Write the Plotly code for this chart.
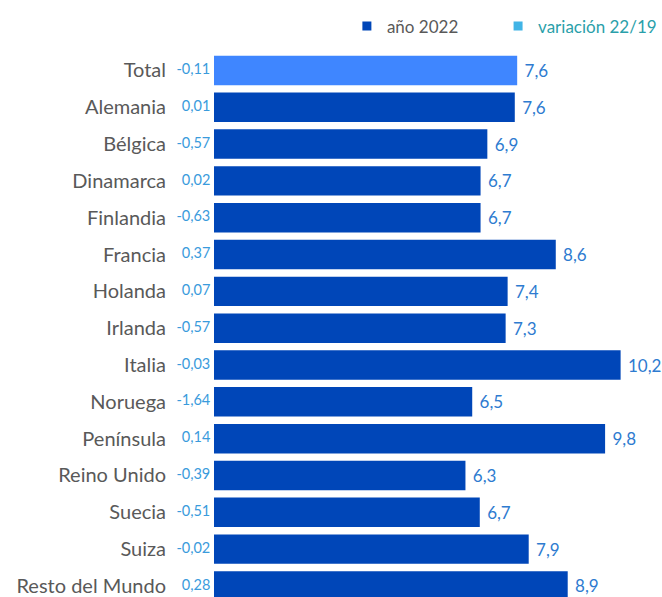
import plotly.graph_objects as go

categories = ["Total", "Alemania", "Bélgica", "Dinamarca", "Finlandia", "Francia",
              "Holanda", "Irlanda", "Italia", "Noruega", "Península", "Reino Unido",
              "Suecia", "Suiza", "Resto del Mundo"]
anio_2022 = [7.62, 7.56, 6.87, 6.70, 6.70, 8.59, 7.38, 7.33, 10.22, 6.49, 9.83, 6.32, 6.68, 7.91, 8.89]
variacion = ["-0,11", "0,01", "-0,57", "0,02", "-0,63", "0,37", "0,07", "-0,57", "-0,03",
             "-1,64", "0,14", "-0,39", "-0,51", "-0,02", "0,28"]

DARK = "#0046B8"
LIGHT = "#3F86FF"
colors = [LIGHT] + [DARK] * (len(categories) - 1)

fig = go.Figure()
fig.add_trace(go.Bar(
    x=anio_2022, y=categories, orientation="h",
    marker=dict(color=colors, line=dict(width=0)),
    texttemplate=" %{x:.1f}", textposition="outside",
    textfont=dict(size=17, color="#2E7BD0", family="Lato"),
    constraintext="none", cliponaxis=False, showlegend=False,
))
fig.add_trace(go.Scatter(
    x=[0] * len(categories), y=categories, mode="text",
    text=[v + "\u00a0" for v in variacion], textposition="middle left",
    textfont=dict(size=14.5, color="#3A9BDC", family="Lato"),
    cliponaxis=False, showlegend=False, hoverinfo="skip",
))
# legend entries
fig.add_trace(go.Scatter(x=[None], y=[None], mode="markers",
                         name="año 2022" + "\u00a0" * 8,
                         marker=dict(symbol="square", size=9, color=DARK)))
fig.add_trace(go.Scatter(x=[None], y=[None], mode="markers",
                         name='<span style="color:#2A9FAA">variación 22/19</span>',
                         marker=dict(symbol="square", size=9, color="#41B4E6")))

fig.update_layout(
    width=662, height=597,
    margin=dict(l=214, r=0, t=52, b=0),
    paper_bgcolor="white", plot_bgcolor="white",
    separators=",.",
    bargap=0.2,
    font=dict(family="Lato", color="#595959"),
    legend=dict(orientation="h", x=0.524, xanchor="left", y=0.986, yanchor="top",
                yref="container", xref="container",
                font=dict(size=17, color="#595959"), itemwidth=30,
                traceorder="normal"),
)
fig.update_xaxes(range=[0, 11.26], visible=False, showgrid=False)
fig.update_yaxes(type="category", categoryorder="array", categoryarray=categories,
                 range=[14.3, -0.5], showgrid=False, showline=False, zeroline=False,
                 ticks="", ticklabelstandoff=47,
                 tickfont=dict(size=20, color="#595959", family="Lato"))

fig.write_html("out.html", config={"displayModeBar": False},
               post_script="document.body.style.margin='0';document.body.style.overflow='hidden';")
